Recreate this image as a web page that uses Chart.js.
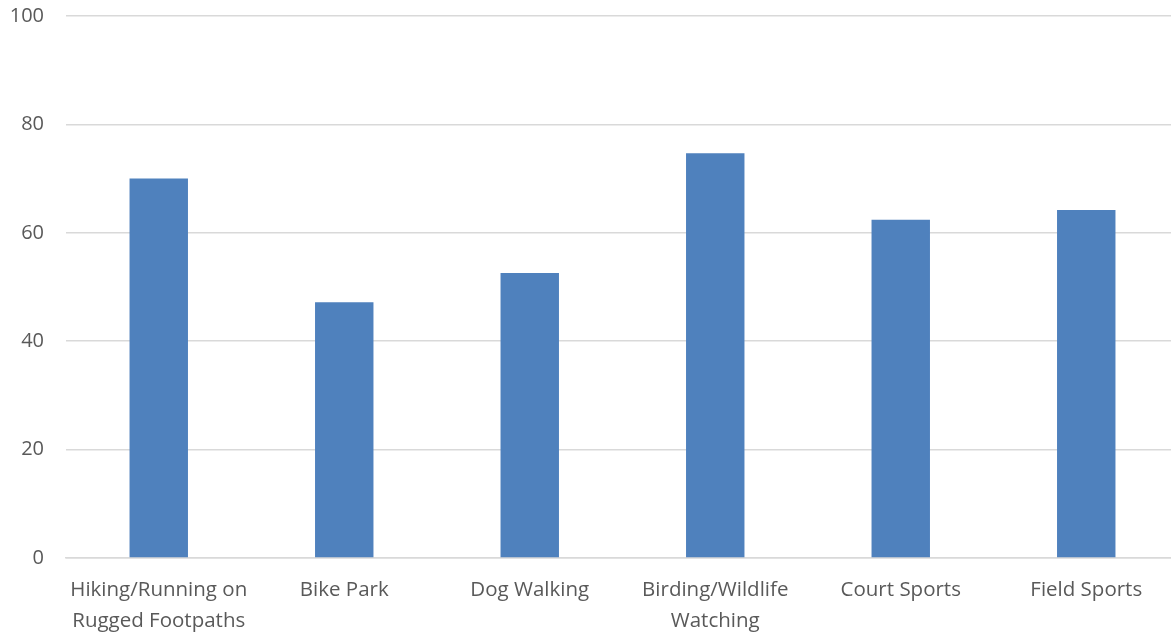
<!DOCTYPE html>
<html>
<head>
<meta charset="utf-8">
<script src="https://cdn.jsdelivr.net/npm/chart.js@4"></script>
<style>
  html, body { margin: 0; padding: 0; background: #fff; }
  #wrap { width: 1171px; height: 633px; position: relative; }
</style>
</head>
<body>
<div id="wrap"><canvas id="chart"></canvas></div>
<script>
// Activity categories and their values
const categories = [
    ['Hiking/Running on', 'Rugged Footpaths'],
    'Bike Park',
    'Dog Walking',
    ['Birding/Wildlife', 'Watching'],
    'Court Sports',
    'Field Sports'
];
const values = [70, 47.2, 52.6, 74.7, 62.4, 64.2];
const yTicks = { min: 0, max: 100, step: 20 };

const textColor = '#595959';
const gridColor = '#d9d9d9';

// original is cropped on the right: let the category axis run a bit past the edge
const extendX = {
    id: 'extendX',
    afterLayout(chart) {
        const x = chart.scales.x;
        x.right += 8;
        x.width += 8;
        x.configure();
    }
};

new Chart(document.getElementById('chart'), {
    type: 'bar',
    data: {
        labels: categories,
        datasets: [{
            data: values,
            backgroundColor: '#4f81bd',
            categoryPercentage: 1,
            barPercentage: 0.315
        }]
    },
    options: {
        responsive: true,
        maintainAspectRatio: false,
        animation: false,
        layout: { padding: 0 },
        plugins: {
            legend: { display: false },
            tooltip: { enabled: false }
        },
        scales: {
            x: {
                grid: { display: false, drawTicks: false },
                border: { color: gridColor, width: 1.5 },
                ticks: {
                    color: textColor,
                    font: { family: 'Open Sans', size: 20.5, lineHeight: 1.5 },
                    padding: 17,
                    maxRotation: 0,
                    autoSkip: false
                },
                afterFit: function(scale) {
                    scale.height = 75;
                    scale.paddingLeft = 0;
                    scale.paddingRight = 0;
                }
            },
            y: {
                min: yTicks.min,
                max: yTicks.max,
                grid: { color: gridColor, lineWidth: 1.5, drawTicks: false },
                border: { display: false },
                ticks: {
                    stepSize: yTicks.step,
                    color: textColor,
                    font: { family: 'Open Sans', size: 20 },
                    padding: 22
                },
                afterFit: function(scale) {
                    scale.width = 66;
                    scale.paddingTop = 16;
                    scale.paddingBottom = 0;
                }
            }
        }
    },
    plugins: [extendX]
});
</script>
</body>
</html>
